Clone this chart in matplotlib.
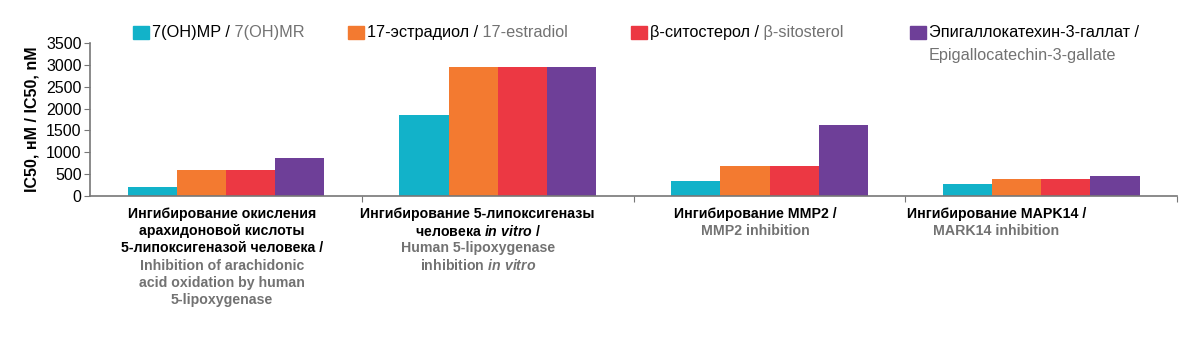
import numpy as np
import matplotlib
matplotlib.use('Agg')
import matplotlib.pyplot as plt
from matplotlib.patches import Rectangle

plt.rcParams['font.family'] = ['Liberation Sans', 'DejaVu Sans']
plt.rcParams['mathtext.fontset'] = 'custom'
plt.rcParams['mathtext.rm'] = 'Liberation Sans:bold'
plt.rcParams['mathtext.it'] = 'Liberation Sans:italic:bold'

# series (IC50, nM)
series_ru = ['7(OH)MP /', '17-эстрадиол /', 'β-ситостерол /', 'Эпигаллокатехин-3-галлат /']
series_en = ['7(OH)MR', '17-estradiol', 'β-sitosterol', 'Epigallocatechin-3-gallate']
colors = ['#12B2C9', '#F37A30', '#EC3843', '#6E3F98']
v_7ohmp = [200, 1860, 350, 270]
v_estradiol = [600, 2940, 680, 380]
v_sitosterol = [600, 2940, 680, 380]
v_egcg = [870, 2940, 1620, 450]
values = [v_7ohmp, v_estradiol, v_sitosterol, v_egcg]

# category labels: black (Russian) lines, then grey (English) lines
cat_ru = [
    ['Ингибирование окисления', 'арахидоновой кислоты', '5-липоксигеназой человека /'],
    ['Ингибирование 5-липоксигеназы', r'человека $in\ vitro$ /'],
    ['Ингибирование MMP2 /'],
    ['Ингибирование MAPK14 /'],
]
cat_en = [
    ['Inhibition of arachidonic', 'acid oxidation by human', '5-lipoxygenase'],
    ['Human 5-lipoxygenase', r'inhibition $in\ vitro$'],
    ['MMP2 inhibition'],
    ['MARK14 inhibition'],
]
label_shift = [-4, -20, -14, -45]  # px, labels sit a bit left of the bar groups

GREY = '#727272'
fig = plt.figure(figsize=(12, 3.52), dpi=100)
ax = fig.add_axes([0.075, 0.443, 0.906, 0.435])

x = np.arange(len(cat_ru))
w = 0.181
for i, vals in enumerate(values):
    ax.bar(x + (i - 1.5) * w, vals, w, color=colors[i], linewidth=0)

ax.set_xlim(-0.5, 3.5)
ax.set_ylim(0, 3500)
ax.set_yticks(range(0, 3501, 500))
ax.tick_params(axis='y', labelsize=11.5, length=4, color='#777777', pad=2)
ax.set_xticks([0.5, 1.5, 2.5, 3.5])
ax.set_xticklabels([])
ax.tick_params(axis='x', length=4, color='#777777')
for s in ['top', 'right']:
    ax.spines[s].set_visible(False)
for s in ['left', 'bottom']:
    ax.spines[s].set_color('#777777')
    ax.spines[s].set_linewidth(1.2)

ax.set_ylabel('IC50, нМ / IC50, nM', fontsize=11.5, fontweight='bold', labelpad=5)

# category labels under the axis
step = 17.2
for i in range(len(cat_ru)):
    lines = [(t, 'black') for t in cat_ru[i]] + [(t, GREY) for t in cat_en[i]]
    for j, (t, c) in enumerate(lines):
        ax.annotate(t, xy=(x[i], 0), xycoords=('data', 'axes fraction'),
                    xytext=(label_shift[i], -18 - j * step), textcoords='offset pixels',
                    ha='center', va='center', fontsize=10.2, fontweight='bold', color=c)

# legend drawn at the top
leg_x = [0.1108, 0.29, 0.526, 0.758]
leg_y = 0.907
for i in range(4):
    fig.patches.append(Rectangle((leg_x[i], leg_y - 0.019), 0.0133, 0.039,
                                 transform=fig.transFigure, color=colors[i]))
    t = fig.text(leg_x[i] + 0.0158, leg_y, series_ru[i], fontsize=11.7,
                 ha='left', va='center', color='black')
    if i < 3:
        ax.annotate(' ' + series_en[i], xy=(1, 0), xycoords=t, ha='left', va='bottom',
                    fontsize=11.7, color=GREY, annotation_clip=False)
    else:
        ax.annotate(series_en[i], xy=(0, 0), xycoords=t, xytext=(0, -8),
                    textcoords='offset pixels', ha='left', va='top',
                    fontsize=11.7, color=GREY, annotation_clip=False)

fig.savefig('out.png', dpi=100)
